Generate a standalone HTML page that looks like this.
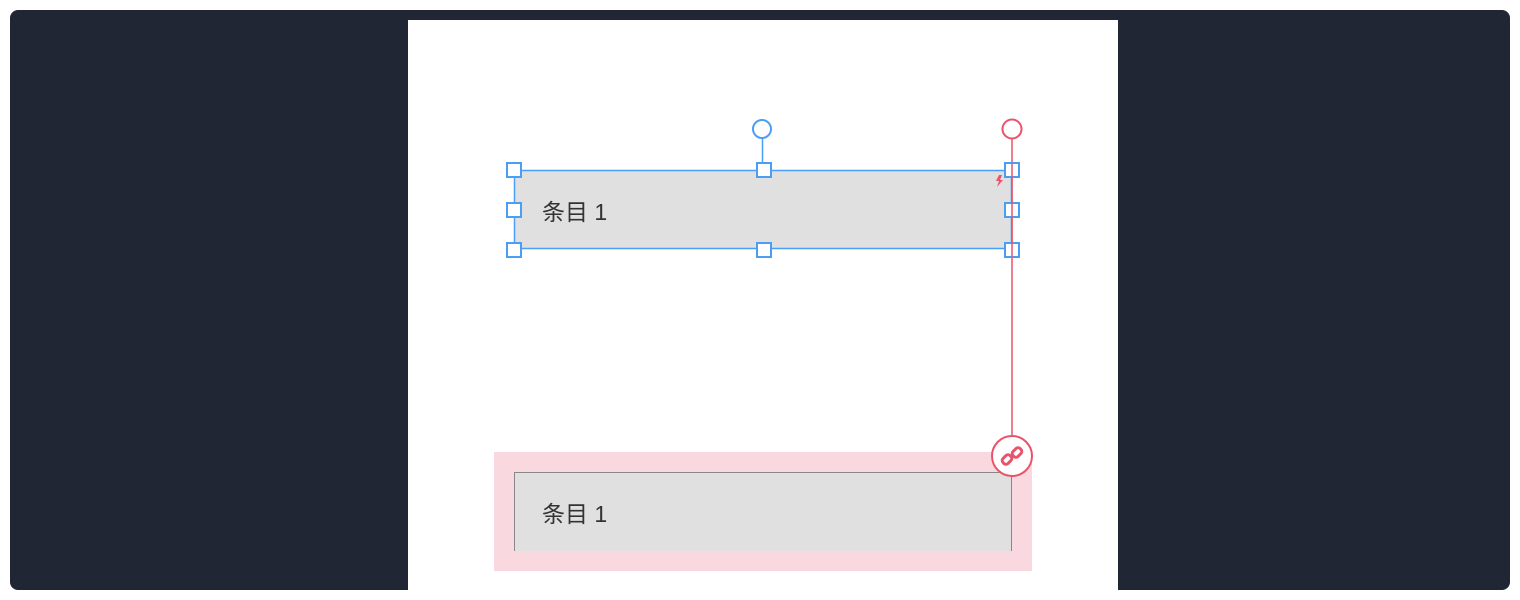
<!DOCTYPE html>
<html><head><meta charset="utf-8"><style>
body{margin:0;width:1520px;height:600px;background:#fff;overflow:hidden;font-family:"Liberation Sans","Noto Sans CJK SC",sans-serif}
</style></head><body>
<svg width="1520" height="600" xmlns="http://www.w3.org/2000/svg" style="position:absolute;left:0;top:0">
<rect x="10" y="10" width="1500" height="580" rx="8" fill="#202633"/>
<rect x="408" y="20" width="710" height="570" fill="#fff"/>
<rect x="494" y="452" width="538" height="119" fill="#f9d9df"/>
<rect x="514" y="472" width="498" height="79" fill="#e0e0e0"/>
<path d="M514.5 551 V472.5 H1011.5 V551" fill="none" stroke="#888" stroke-width="1"/>
<text x="542" y="522" font-size="23" fill="#333" font-family="Liberation Sans, Noto Sans CJK SC, sans-serif">条目 1</text>
<rect x="514.5" y="170.5" width="497" height="78" fill="#e0e0e0" stroke="#4a9ff5" stroke-width="1.5"/>
<text x="542" y="220" font-size="23" fill="#333" font-family="Liberation Sans, Noto Sans CJK SC, sans-serif">条目 1</text>
<line x1="762.5" y1="138" x2="762.5" y2="170" stroke="#4a9ff5" stroke-width="1.5"/>
<circle cx="762" cy="129" r="9" fill="#fff" stroke="#4a9ff5" stroke-width="2"/>
<path d="M999 175 l-3 6 h3 l-2 6 l6 -7 h-3 l2 -5z" fill="#e9546b"/>
<line x1="1012" y1="138" x2="1012" y2="437" stroke="#e9546b" stroke-width="1.5"/>
<circle cx="1012" cy="129" r="9.5" fill="#fff" stroke="#e9546b" stroke-width="2"/>
<g fill="#fff" stroke="#4a9ff5" stroke-width="2">
<rect x="507" y="163" width="14" height="14"/><rect x="757" y="163" width="14" height="14"/><rect x="1005" y="163" width="14" height="14"/>
<rect x="507" y="203" width="14" height="14"/><rect x="1005" y="203" width="14" height="14"/>
<rect x="507" y="243" width="14" height="14"/><rect x="757" y="243" width="14" height="14"/><rect x="1005" y="243" width="14" height="14"/>
</g>
<line x1="1012" y1="163" x2="1012" y2="257" stroke="#e9546b" stroke-width="1.5"/>
<circle cx="1012" cy="456" r="20" fill="#fff" stroke="#e9546b" stroke-width="2"/>
<g stroke="#e9546b" stroke-width="3" fill="none" stroke-linecap="round">
<rect x="1002" y="456" width="10" height="7" rx="3" transform="rotate(-45 1007 459.5)"/>
<rect x="1012" y="449" width="10" height="7" rx="3" transform="rotate(-45 1017 452.5)"/>
</g>
</svg>
</body></html>
